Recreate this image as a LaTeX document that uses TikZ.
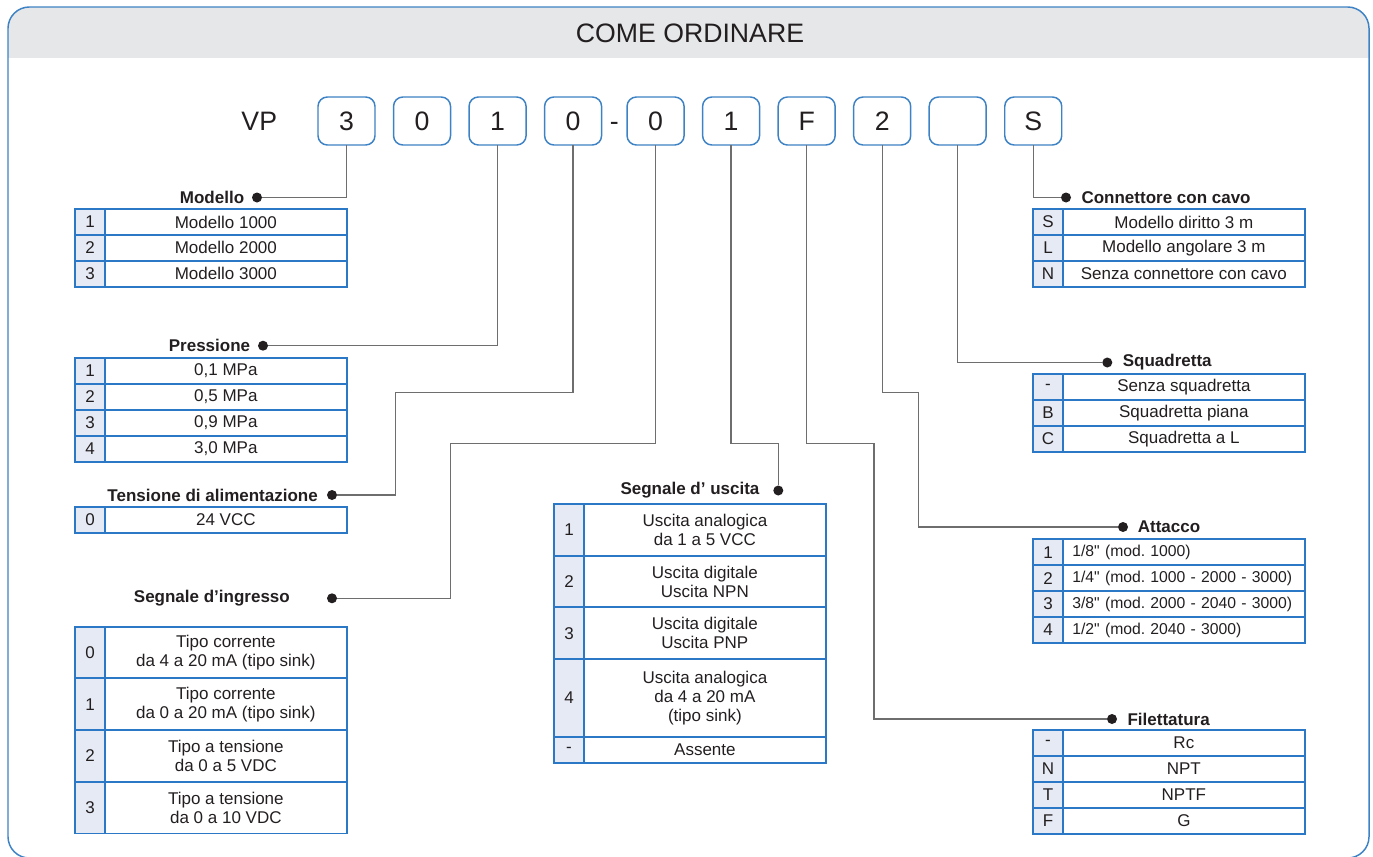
\documentclass[tikz,border=0pt]{standalone}
\usepackage{fontspec}
\setmainfont{Liberation Sans}[Ligatures=TeXOff]
\usetikzlibrary{positioning}
\definecolor{frameBlue}{HTML}{3D82C4}
\definecolor{cellBlue}{HTML}{2A78C6}
\definecolor{keyFill}{HTML}{E6EAF5}
\definecolor{headGrey}{HTML}{E6E7E9}
\definecolor{wireGrey}{HTML}{6E6E6E}
\definecolor{inkBlack}{HTML}{231F20}
\newcommand{\cellfont}{\fontsize{12.75}{14.25}\selectfont}
\newcommand{\bigfont}{\fontsize{20}{24}\selectfont}

\begin{document}
\frenchspacing
\begin{tikzpicture}[x=0.75pt, y=-0.75pt,
    node distance=13.9pt,
    codebox/.style={draw=frameBlue, line width=1.1pt, rounded corners=7pt, fill=white, minimum width=42.75pt, minimum height=36pt, inner sep=0pt, outer sep=0pt, font=\bigfont, text=inkBlack},
    keycell/.style={draw=cellBlue, line width=1.4pt, fill=keyFill, minimum width=22.5pt, minimum height=19.43pt, inner sep=0pt, outer sep=0pt, anchor=north west, font=\cellfont, text=inkBlack},
    valcell/.style={draw=cellBlue, line width=1.4pt, minimum width=181.3pt, minimum height=19.43pt, inner sep=0pt, outer sep=0pt, align=center, font=\cellfont, text=inkBlack},
    leftcell/.style={valcell, align=left, text width=167.3pt, inner xsep=7pt, font=\fontsize{11.8}{14}\selectfont},
    tag/.style={font=\fontsize{12.75}{14}\selectfont\bfseries, inner sep=0pt, text=inkBlack},
    dot/.style={circle, fill=inkBlack, minimum size=7.5pt, inner sep=0pt},
    wire/.style={draw=wireGrey, line width=1pt},
]
    \useasboundingbox (0,0) rectangle (1373,856);

    % frame and heading
    \begin{scope}
        \clip[rounded corners=16pt] (8,7) rectangle (1369,858);
        \fill[headGrey] (8,7) rectangle (1369,58);
    \end{scope}
    \draw[frameBlue, line width=1.1pt, rounded corners=16pt] (8,7) rectangle (1369,858);
    \node[font=\bigfont, text=inkBlack] (title) at (690,33) {COME ORDINARE};

    % order code
    \node[codebox] (c1) at (346.5,121) {3};
    \node[font=\bigfont, text=inkBlack, inner sep=0pt, left=30.5pt of c1] (vp) {VP};
    \node[codebox, right=of c1] (c2) {0};
    \node[codebox, right=of c2] (c3) {1};
    \node[codebox, right=of c3] (c4) {0};
    \node[codebox, right=19.1pt of c4] (c5) {0};
    \node[font=\bigfont, text=inkBlack, inner sep=0pt, anchor=base] (dash) at ([xshift=9.6pt]c4.base east) {-};
    \node[codebox, right=of c5] (c6) {1};
    \node[codebox, right=of c6] (c7) {F};
    \node[codebox, right=of c7] (c8) {2};
    \node[codebox, right=of c8] (c9) {};
    \node[codebox, right=of c9] (c10) {S};

    % left column
    \node[dot] (modDot) at (257,197.5) {};
    \node[tag, left=5.5pt of modDot] (modTag) {Modello};
    \foreach \k/\v [count=\i] in {1/Modello 1000, 2/Modello 2000, 3/Modello 3000}{
        \node[keycell] (mod-k\i) at (75,{209+25.9*(\i-1)}) {\k};
        \node[valcell, right=0pt of mod-k\i] (mod-v\i) {\v};
    }

    \node[dot] (preDot) at (263,345.7) {};
    \node[tag, left=5.5pt of preDot] (preTag) {Pressione};
    \foreach \k/\v [count=\i] in {1/{0,1 MPa}, 2/{0,5 MPa}, 3/{0,9 MPa}, 4/{3,0 MPa}}{
        \node[keycell] (pre-k\i) at (75,{358+25.9*(\i-1)}) {\k};
        \node[valcell, right=0pt of pre-k\i] (pre-v\i) {\v};
    }

    \node[dot] (tenDot) at (332,495) {};
    \node[tag, left=6.5pt of tenDot] (tenTag) {Tensione di alimentazione};
    \node[keycell] (ten-k1) at (75,507) {0};
    \node[valcell, right=0pt of ten-k1] (ten-v1) {24 VCC};

    \node[dot] (ingDot) at (332,598.3) {};
    \node[tag, left=27.5pt of ingDot] (ingTag) {Segnale d’ingresso};
    \foreach \k/\v [count=\i] in {0/{Tipo corrente\\da 4 a 20 mA (tipo sink)}, 1/{Tipo corrente\\da 0 a 20 mA (tipo sink)}, 2/{Tipo a tensione\\da 0 a 5 VDC}, 3/{Tipo a tensione\\da 0 a 10 VDC}}{
        \node[keycell, minimum height=38.78pt] (ing-k\i) at (75,{626.7+51.7*(\i-1)}) {\k};
        \node[valcell, minimum height=38.78pt, right=0pt of ing-k\i] (ing-v\i) {\v};
    }

    % middle column
    \node[dot] (uscDot) at (778.3,490.5) {};
    \node[tag] (uscTag) at (690,490.5) {Segnale d’ uscita};
    \foreach \k/\y/\h/\v [count=\i] in {1/504/38.78pt/{Uscita analogica\\da 1 a 5 VCC}, 2/555.7/38.7pt/{Uscita digitale\\Uscita NPN}, 3/607.3/38.78pt/{Uscita digitale\\Uscita PNP}, 4/659/58.28pt/{Uscita analogica\\da 4 a 20 mA\\(tipo sink)}, -/736.7/19.5pt/Assente}{
        \node[keycell, minimum height=\h] (usc-k\i) at (554,\y) {\k};
        \node[valcell, minimum height=\h, right=0pt of usc-k\i] (usc-v\i) {\v};
    }

    % right column
    \node[dot] (conDot) at (1066,197.5) {};
    \node[tag, right=7.5pt of conDot] (conTag) {Connettore con cavo};
    \foreach \k/\v [count=\i] in {S/Modello diritto 3 m, L/Modello angolare 3 m, N/Senza connettore con cavo}{
        \node[keycell] (con-k\i) at (1033,{209+25.9*(\i-1)}) {\k};
        \node[valcell, right=0pt of con-k\i] (con-v\i) {\v};
    }

    \node[dot] (squDot) at (1107.3,362.5) {};
    \node[tag, right=7.5pt of squDot] (squTag) {Squadretta};
    \foreach \k/\v [count=\i] in {-/Senza squadretta, B/Squadretta piana, C/Squadretta a L}{
        \node[keycell] (squ-k\i) at (1033,{374+25.9*(\i-1)}) {\k};
        \node[valcell, right=0pt of squ-k\i] (squ-v\i) {\v};
    }

    \node[dot] (attDot) at (1123,527) {};
    \node[tag, right=7pt of attDot] (attTag) {Attacco};
    \foreach \k/\v [count=\i] in {1/{1/8" (mod. 1000)}, 2/{1/4" (mod. 1000 - 2000 - 3000)}, 3/{3/8" (mod. 2000 - 2040 - 3000)}, 4/{1/2" (mod. 2040 - 3000)}}{
        \node[keycell] (att-k\i) at (1033,{539.3+25.9*(\i-1)}) {\k};
        \node[leftcell, right=0pt of att-k\i] (att-v\i) {\v};
    }

    \node[dot] (filDot) at (1112,719) {};
    \node[tag, right=7.5pt of filDot] (filTag) {Filettatura};
    \foreach \k/\v [count=\i] in {-/Rc, N/NPT, T/NPTF, F/G}{
        \node[keycell] (fil-k\i) at (1033,{730+25.9*(\i-1)}) {\k};
        \node[valcell, right=0pt of fil-k\i] (fil-v\i) {\v};
    }

    % leader lines
    \coordinate (tenBend) at (395.7,392.7);
    \coordinate (ingBend) at (450.3,443.3);
    \coordinate (uscBend) at (778.3,443.3);
    \coordinate (filBend) at (874,443.3);
    \coordinate (attBend) at (918.3,392.3);
    \draw[wire] (c1.south) |- (modDot);
    \draw[wire] (c3.south) |- (preDot);
    \draw[wire] (c4.south) |- (tenBend) |- (tenDot);
    \draw[wire] (c5.south) |- (ingBend) |- (ingDot);
    \draw[wire] (c6.south) |- (uscBend) -- (uscDot);
    \draw[wire] (c7.south) |- (filBend) |- (filDot);
    \draw[wire] (c8.south) |- (attBend) |- (attDot);
    \draw[wire] (c9.south) |- (squDot);
    \draw[wire] (c10.south) |- (conDot);
\end{tikzpicture}
\end{document}
